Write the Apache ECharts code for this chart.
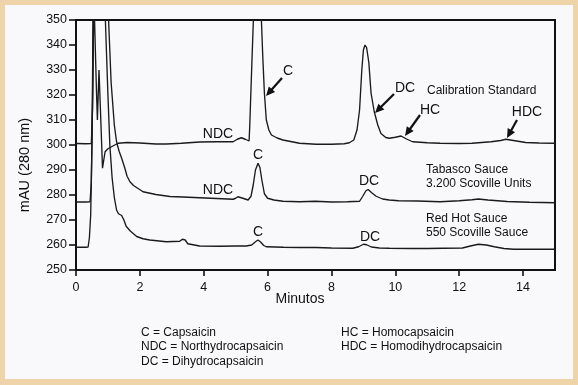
<!DOCTYPE html>
<html>
<head>
<meta charset="utf-8">
<script src="https://cdn.jsdelivr.net/npm/echarts@6/dist/echarts.min.js"></script>
<style>
  html, body { margin:0; padding:0; background:#EFD4A9; }
  #panel { position:absolute; left:5px; top:5px; width:568px; height:374px; background:#F9F9FB; }
  #chart { position:absolute; left:0; top:0; width:578px; height:385px; }
</style>
</head>
<body>
<div id="panel"></div>
<div id="chart"></div>
<script>
// ---- data (minutes, mAU) ----
const calibrationStandard = [
  [0,300.6],[0.3,300.5],[0.48,300.6],[0.52,315],[0.56,360],[0.6,360],[0.64,322],[0.67,310],
  [0.7,322],[0.72,330],[0.76,316],[0.83,290.7],[0.87,294],[0.91,297.3],[1.0,298.5],[1.11,299.3],
  [1.32,300.7],[1.6,301],[2.0,300.8],[2.5,300.4],[2.83,300.4],[3.3,300.7],[3.88,301.2],[4.4,301.3],
  [4.92,301.3],[5.05,302.3],[5.18,302.9],[5.3,302.3],[5.42,301.6],[5.44,307.3],[5.5,330],[5.56,352],
  [5.68,380],[5.8,352],[5.85,335],[5.9,320.7],[5.96,310],[6.04,306],[6.12,304],[6.3,302.8],
  [6.48,302],[7.0,300.7],[7.52,300.3],[8.0,300.3],[8.4,300.5],[8.56,300.9],[8.7,302],[8.8,306],
  [8.88,314],[8.95,330],[9.0,338],[9.05,340],[9.1,339],[9.17,333],[9.24,320.7],[9.34,313.3],
  [9.45,308],[9.55,304.6],[9.7,303],[9.81,302.7],[10.0,303.1],[10.18,303.6],[10.35,302.4],
  [10.54,301.3],[11.0,300.9],[11.4,300.7],[12.0,300.6],[12.4,300.7],[13.0,301.3],[13.3,301.8],
  [13.46,302.3],[13.7,301.8],[14.08,301],[14.5,300.8],[15,300.7]
];
const tabascoSauce = [
  [0,277.2],[0.3,277.2],[0.44,277.3],[0.48,285],[0.52,320],[0.56,380],[0.8,420],[0.98,380],
  [1.02,350],[1.1,325],[1.2,308],[1.27,301.3],[1.35,297.5],[1.43,294.7],[1.53,290.7],[1.6,287.5],
  [1.69,285.3],[1.8,283.8],[2.1,281.3],[2.5,280.2],[2.94,279.4],[3.35,279.2],[3.87,278.9],
  [4.4,278.6],[4.92,278.3],[5.0,278.7],[5.07,279.3],[5.2,278.8],[5.39,278],[5.48,279.5],[5.55,284],
  [5.62,290],[5.7,292.7],[5.76,291],[5.82,286],[5.9,280.5],[6.0,278.7],[6.2,278],[6.48,277.5],
  [7.0,277.3],[7.5,277.5],[8.0,277.2],[8.5,277.3],[8.88,277.5],[8.98,279.5],[9.08,281.7],
  [9.15,282.2],[9.25,281],[9.4,279.5],[9.6,278.4],[9.81,278],[10.1,277.7],[10.7,277.6],[11.4,277.3],
  [12.0,277.7],[12.4,278.1],[12.6,278.4],[12.9,278],[13.5,277.4],[14.2,277.1],[15,276.9]
];
const redHotSauce = [
  [0,259.1],[0.3,259.1],[0.38,259.2],[0.42,263],[0.46,272],[0.5,300],[0.54,360],[0.75,420],
  [0.88,380],[0.92,350],[1.0,320],[1.06,300],[1.13,287],[1.2,279],[1.27,274],[1.33,272.5],
  [1.43,271.8],[1.5,270],[1.57,267.5],[1.7,265.6],[1.9,263.4],[2.1,262.5],[2.31,262],[2.83,261.3],
  [3.25,261.5],[3.33,262.3],[3.42,262],[3.5,260.5],[3.56,259.8],[3.87,259.6],[4.5,259.5],[5.0,259.6],
  [5.33,259.6],[5.5,260],[5.62,261.3],[5.7,262],[5.78,261.2],[5.88,259.8],[5.96,259.3],[6.5,259.1],
  [7.0,259],[7.5,259],[8.0,258.8],[8.67,258.7],[8.85,259.3],[9.0,260.3],[9.1,260.1],[9.25,259.2],
  [9.5,258.8],[9.81,258.7],[10.5,258.6],[11.0,258.6],[11.5,258.7],[12.1,258.8],[12.35,259.6],
  [12.6,260.3],[12.85,260],[13.1,259.3],[13.4,258.6],[13.7,258.3],[14.3,258.3],[15,258.3]
];
const xRange = [0, 15];
const yRange = [250, 350];
const traceNames = ['Calibration Standard', 'Tabasco Sauce', 'Red Hot Sauce'];
const legendLines = [
  'C = Capsaicin', 'NDC = Northydrocapsaicin', 'DC = Dihydrocapsaicin',
  'HC = Homocapsaicin', 'HDC = Homodihydrocapsaicin'
];

// ---- chart ----
const FF = '"Liberation Sans", Arial, Helvetica, sans-serif';
const chart = echarts.init(document.getElementById('chart'), null, {renderer:'canvas'});

function txt(text, x, y, size, align, vAlign) {
  return {
    type:'text', z:100,
    style:{ text:text, x:x, y:y, fill:'#111', font: size + 'px ' + FF,
            align: align || 'center', verticalAlign: vAlign || 'middle' }
  };
}
function arrow(x1, y1, x2, y2) {
  const a = Math.atan2(y2 - y1, x2 - x1), c = Math.cos(a), s = Math.sin(a);
  const hl = 9, hw = 4.2;
  const bx = x2 - hl * c, by = y2 - hl * s;
  return [
    { type:'line', z:100, shape:{x1:x1, y1:y1, x2:bx + c, y2:by + s},
      style:{stroke:'#111', lineWidth:2.2} },
    { type:'polygon', z:100,
      shape:{points:[[x2, y2], [bx + hw * s, by - hw * c], [bx - hw * s, by + hw * c]]},
      style:{fill:'#111'} }
  ];
}

const lineStyle = {color:'#1a1a1a', width:1.35};
function trace(name, data) {
  return { name:name, type:'line', data:data, showSymbol:false, symbol:'none',
           clip:true, lineStyle:lineStyle, z:5, silent:true };
}

const yName = {
  type:'text', z:100, x:25, y:165, rotation: Math.PI / 2,
  style:{ text:'mAU (280 nm)', x:0, y:0, fill:'#111', font:'14.5px ' + FF,
          align:'center', verticalAlign:'middle' }
};

const graphics = [
  txt('Minutos', 300, 299, 14),
  yName,
  // calibration standard labels
  txt('NDC', 218, 134, 14),
  txt('C', 288, 71, 14),
  txt('DC', 405, 88, 14),
  txt('HC', 430, 110, 14),
  txt('HDC', 527, 112, 14),
  txt(traceNames[0], 427, 91, 12, 'left'),
  // tabasco labels
  txt('NDC', 218, 190, 14),
  txt('C', 258, 155, 14),
  txt('DC', 369, 181, 14),
  txt(traceNames[1], 426, 170, 12, 'left'),
  txt('3.200 Scoville Units', 426, 184, 12, 'left'),
  // red hot labels
  txt('C', 258, 232, 14),
  txt('DC', 370, 237, 14),
  txt(traceNames[2], 426, 219, 12, 'left'),
  txt('550 Scoville Sauce', 426, 233, 12, 'left'),
  // legend
  txt(legendLines[0], 141, 333, 12, 'left'),
  txt(legendLines[1], 141, 347, 12, 'left'),
  txt(legendLines[2], 141, 362, 12, 'left'),
  txt(legendLines[3], 341, 333, 12, 'left'),
  txt(legendLines[4], 341, 347, 12, 'left')
].concat(
  arrow(282, 78, 266, 96),
  arrow(394, 94, 375, 113),
  arrow(420, 115, 405, 136),
  arrow(517, 120, 507, 138)
);

const axisLabelStyle = {color:'#111', fontSize:12.5, fontFamily:FF};
const option = {
  animation:false,
  backgroundColor:'transparent',
  grid:{left:76, right:23, top:20, bottom:115, show:true, borderColor:'#111', borderWidth:2,
        backgroundColor:'transparent'},
  xAxis:{
    type:'value', min:xRange[0], max:xRange[1], interval:2,
    axisLine:{show:true, lineStyle:{color:'#111', width:2}},
    axisTick:{show:true, length:6, lineStyle:{color:'#111', width:1.6}},
    axisLabel:Object.assign({margin:11, showMaxLabel:false}, axisLabelStyle),
    splitLine:{show:false}
  },
  yAxis:{
    type:'value', min:yRange[0], max:yRange[1], interval:10,
    axisLine:{show:true, lineStyle:{color:'#111', width:2}},
    axisTick:{show:true, length:7, lineStyle:{color:'#111', width:1.6}},
    axisLabel:Object.assign({margin:9}, axisLabelStyle),
    splitLine:{show:false}
  },
  series:[
    trace(traceNames[0], calibrationStandard),
    trace(traceNames[1], tabascoSauce),
    trace(traceNames[2], redHotSauce)
  ],
  graphic:{elements:graphics}
};
chart.setOption(option);
</script>
</body>
</html>
